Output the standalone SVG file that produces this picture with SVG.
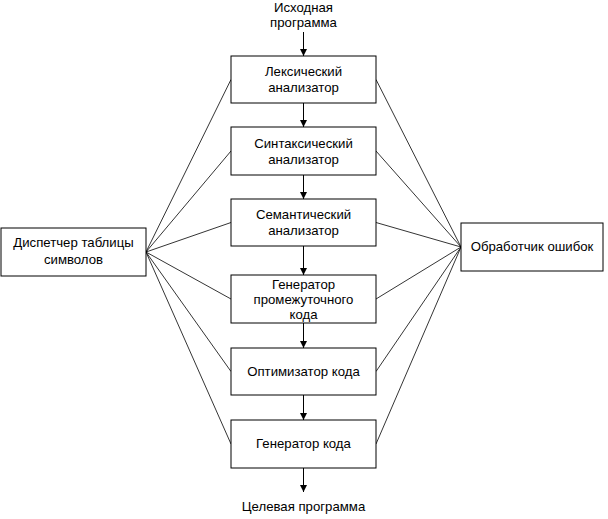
<svg xmlns="http://www.w3.org/2000/svg" width="608" height="519" viewBox="0 0 608 519">
<style>
.box{fill:#fff;stroke:#000;stroke-width:1}
.t{font-family:"Liberation Sans",Arial,sans-serif;font-size:13.2px;fill:#000;text-anchor:middle}
.ln{stroke:#000;stroke-width:0.8;fill:none}
.ar{stroke:#000;stroke-width:1;fill:none;marker-end:url(#ah)}
</style>
<defs>
<marker id="ah" markerWidth="8" markerHeight="8" refX="7" refY="4" orient="auto" markerUnits="userSpaceOnUse">
<path d="M0,0.5 L7,4 L0,7.5 Z" fill="#000"/>
</marker>
</defs>
<rect width="608" height="519" fill="#fff"/>
<g id="connectors">
<line class="ar" x1="303.5" y1="32" x2="303.5" y2="56"/>
<line class="ar" x1="303.5" y1="103" x2="303.5" y2="127"/>
<line class="ar" x1="303.5" y1="175" x2="303.5" y2="199"/>
<line class="ar" x1="303.5" y1="246" x2="303.5" y2="275"/>
<line class="ar" x1="303.5" y1="323" x2="303.5" y2="348"/>
<line class="ar" x1="303.5" y1="395" x2="303.5" y2="420"/>
<line class="ar" x1="303.5" y1="468" x2="303.5" y2="492"/>
<line class="ln" x1="146" y1="252" x2="231" y2="79.5"/>
<line class="ln" x1="146" y1="252" x2="231" y2="151"/>
<line class="ln" x1="146" y1="252" x2="231" y2="222.5"/>
<line class="ln" x1="146" y1="252" x2="231" y2="299"/>
<line class="ln" x1="146" y1="252" x2="231" y2="371.5"/>
<line class="ln" x1="146" y1="252" x2="231" y2="444"/>
<line class="ln" x1="461" y1="247" x2="376" y2="79.5"/>
<line class="ln" x1="461" y1="247" x2="376" y2="151"/>
<line class="ln" x1="461" y1="247" x2="376" y2="222.5"/>
<line class="ln" x1="461" y1="247" x2="376" y2="299"/>
<line class="ln" x1="461" y1="247" x2="376" y2="371.5"/>
<line class="ln" x1="461" y1="247" x2="376" y2="444"/>
</g>
<g id="source"><text class="t" x="303.5" y="12">Исходная</text><text class="t" x="303.5" y="27">программа</text></g>
<g id="lexer"><rect class="box" x="231" y="56" width="145" height="47"/><text class="t" x="303.5" y="76">Лексический</text><text class="t" x="303.5" y="92">анализатор</text></g>
<g id="parser"><rect class="box" x="231" y="127" width="145" height="48"/><text class="t" x="303.5" y="148">Синтаксический</text><text class="t" x="303.5" y="164">анализатор</text></g>
<g id="semantic"><rect class="box" x="231" y="199" width="145" height="47"/><text class="t" x="303.5" y="219">Семантический</text><text class="t" x="303.5" y="235">анализатор</text></g>
<g id="intermediate"><rect class="box" x="231" y="275" width="145" height="48"/><text class="t" x="303.5" y="289">Генератор</text><text class="t" x="303.5" y="304">промежуточного</text><text class="t" x="303.5" y="319">кода</text></g>
<g id="optimizer"><rect class="box" x="231" y="348" width="145" height="47"/><text class="t" x="303.5" y="376">Оптимизатор кода</text></g>
<g id="codegen"><rect class="box" x="231" y="420" width="145" height="48"/><text class="t" x="303.5" y="448">Генератор кода</text></g>
<g id="target"><text class="t" x="303.5" y="511">Целевая программа</text></g>
<g id="symtab"><rect class="box" x="1" y="228" width="145" height="48"/><text class="t" x="73.5" y="247">Диспетчер таблицы</text><text class="t" x="73.5" y="264">символов</text></g>
<g id="errors"><rect class="box" x="461" y="223" width="142" height="48"/><text class="t" x="532" y="251">Обработчик ошибок</text></g>
</svg>
